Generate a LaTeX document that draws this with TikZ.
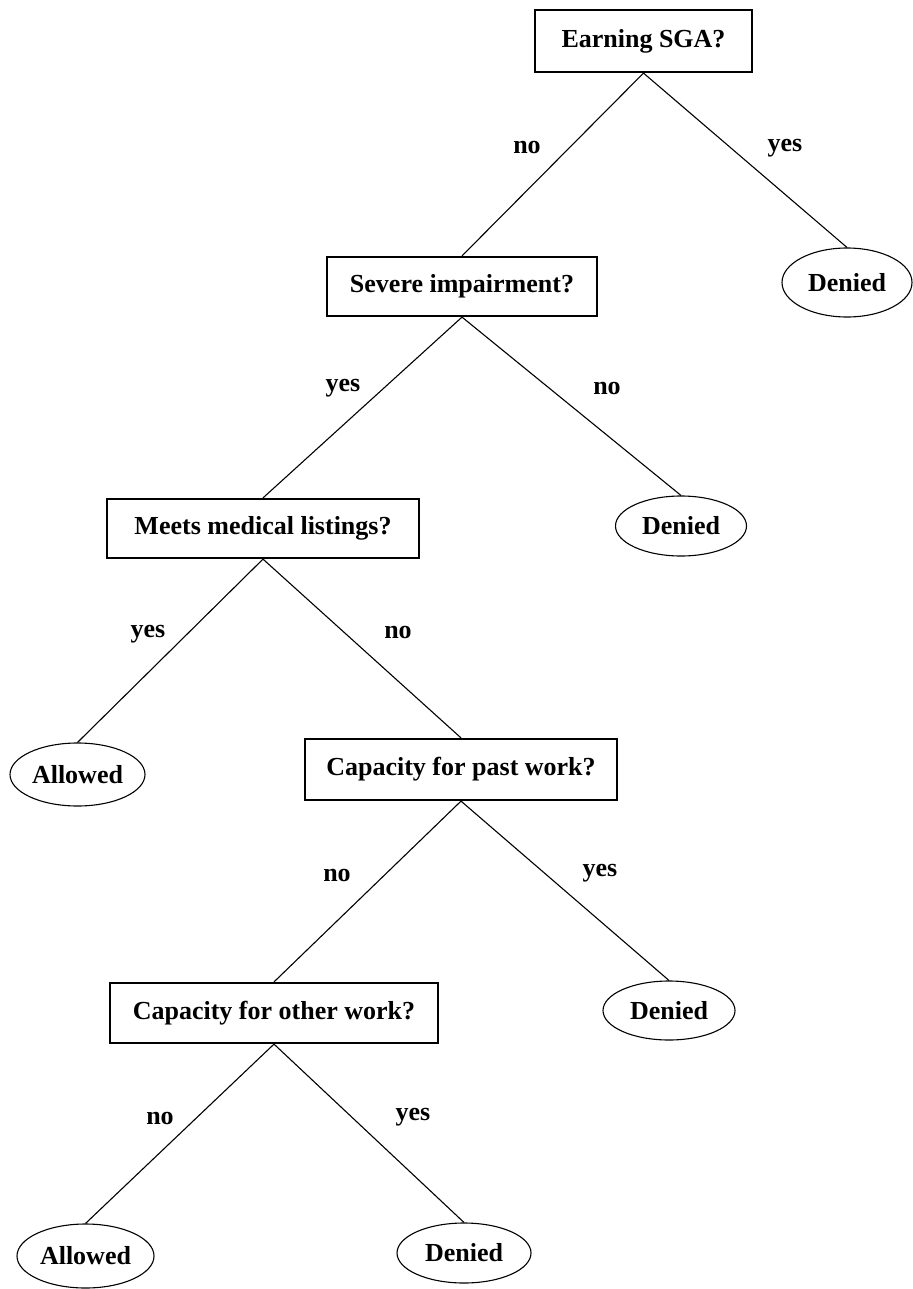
\documentclass[tikz,border=0pt]{standalone}
\usepackage{fontspec}
\setmainfont{Liberation Serif}
\usetikzlibrary{shapes.geometric}
\begin{document}
\begin{tikzpicture}[x=1pt,y=-1pt,
  txt/.style={font=\fontsize{26}{30}\selectfont\bfseries},
  qbox/.style={txt, draw, line width=2.2pt, rectangle, inner sep=0pt},
  leaf/.style={txt, draw, line width=1.1pt, ellipse, inner sep=0pt},
  lbl/.style={txt, inner sep=0pt},
  conn/.style={line width=1.1pt}]
\useasboundingbox (0,0) rectangle (912,1289);
% questions
\node[qbox, minimum width=217pt, minimum height=62pt] (q1) at (643.5,41) {Earning SGA?};
\node[qbox, minimum width=270pt, minimum height=59pt] (q2) at (462,286.5) {Severe impairment?};
\node[qbox, minimum width=312pt, minimum height=59pt] (q3) at (263,528.5) {Meets medical listings?};
\node[qbox, minimum width=312pt, minimum height=61pt] (q4) at (461,769.5) {Capacity for past work?};
\node[qbox, minimum width=328pt, minimum height=60pt] (q5) at (274,1013) {Capacity for other work?};
% leaves
\node[leaf, minimum width=130pt, minimum height=69pt] (d1) at (847,282.5) {Denied};
\node[leaf, minimum width=131pt, minimum height=60pt] (d2) at (681,526) {Denied};
\node[leaf, minimum width=135pt, minimum height=63pt] (a1) at (77.5,774.5) {Allowed};
\node[leaf, minimum width=132pt, minimum height=59pt] (d3) at (669,1010.5) {Denied};
\node[leaf, minimum width=137pt, minimum height=64pt] (a2) at (85.5,1256) {Allowed};
\node[leaf, minimum width=134pt, minimum height=60pt] (d4) at (464,1253) {Denied};
% connectors
\draw[conn] (q1.south) -- (q2.north);
\draw[conn] (q1.south) -- (d1.north);
\draw[conn] (q2.south) -- (q3.north);
\draw[conn] (q2.south) -- (d2.north);
\draw[conn] (q3.south) -- (a1.north);
\draw[conn] (q3.south) -- (q4.north);
\draw[conn] (q4.south) -- (q5.north);
\draw[conn] (q4.south) -- (d3.north);
\draw[conn] (q5.south) -- (a2.north);
\draw[conn] (q5.south) -- (d4.north);
% labels
\node[lbl] (l1) at (527,148) {no};
\node[lbl] (l2) at (785,148) {yes};
\node[lbl] (l3) at (343,388) {yes};
\node[lbl] (l4) at (607,388) {no};
\node[lbl] (l5) at (148,634) {yes};
\node[lbl] (l6) at (398,632) {no};
\node[lbl] (l7) at (337,875) {no};
\node[lbl] (l8) at (600,873) {yes};
\node[lbl] (l9) at (160,1118) {no};
\node[lbl] (l10) at (413,1117) {yes};
\end{tikzpicture}
\end{document}
